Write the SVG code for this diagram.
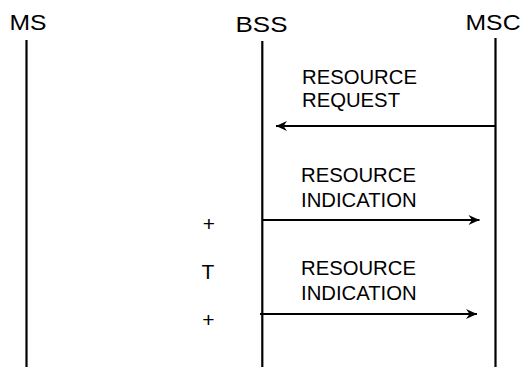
<svg xmlns="http://www.w3.org/2000/svg" width="526" height="367" viewBox="0 0 526 367">
<style>
text{font-family:"Liberation Sans",Arial,sans-serif;fill:#000}
.h{font-size:22.5px}
.l{font-size:20.3px}
.s{font-size:21px;text-anchor:middle}
.life{stroke:#000;stroke-width:2.2;fill:none}
.msg{stroke:#000;stroke-width:2.2;fill:none;marker-end:url(#ah)}
</style>
<defs>
<marker id="ah" markerUnits="userSpaceOnUse" markerWidth="14" markerHeight="12" viewBox="-12 -6 14 12" refX="0" refY="0" orient="auto">
<path d="M0,0 L-11,-5 L-7.5,0 L-11,5 Z" fill="#000"/>
</marker>
</defs>
<g id="MS">
<text class="h" x="9.5" y="29.5" textLength="37" lengthAdjust="spacingAndGlyphs">MS</text>
<line class="life" x1="26.5" y1="40" x2="26.5" y2="367"/>
</g>
<g id="BSS">
<text class="h" x="235.5" y="31.5" textLength="52" lengthAdjust="spacingAndGlyphs">BSS</text>
<line class="life" x1="262.3" y1="41" x2="262.3" y2="367"/>
</g>
<g id="MSC">
<text class="h" x="465.5" y="29.5" textLength="55" lengthAdjust="spacingAndGlyphs">MSC</text>
<line class="life" x1="495.5" y1="38" x2="495.5" y2="367"/>
</g>
<g id="connectors">
<line class="msg" x1="495" y1="126" x2="276" y2="126"/>
<line class="msg" x1="262" y1="220" x2="479.5" y2="220"/>
<line class="msg" x1="260" y1="314" x2="477" y2="314"/>
</g>
<g id="labels">
<text class="l" x="302" y="84">RESOURCE</text>
<text class="l" x="302" y="106.5">REQUEST</text>
<text class="l" x="301" y="181.5">RESOURCE</text>
<text class="l" x="301" y="207">INDICATION</text>
<text class="l" x="301" y="275">RESOURCE</text>
<text class="l" x="301" y="300">INDICATION</text>
<text class="s" x="209" y="231">+</text>
<text class="s" x="208" y="279">T</text>
<text class="s" x="208.5" y="327">+</text>
</g>
</svg>
